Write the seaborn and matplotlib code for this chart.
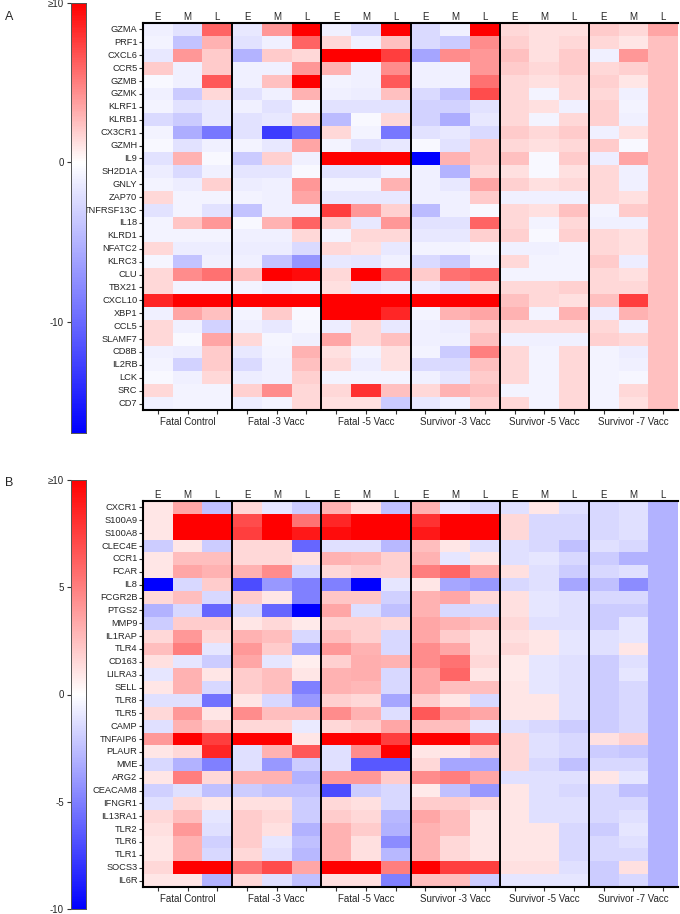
import numpy as np
import pandas as pd
import matplotlib
matplotlib.use("Agg")
import matplotlib.pyplot as plt
import seaborn as sns
from matplotlib.colors import LinearSegmentedColormap

sns.set_theme(style="white")
plt.rcParams['font.family'] = ['Liberation Sans', 'DejaVu Sans']

groups = ["Fatal Control", "Fatal -3 Vacc", "Fatal -5 Vacc",
          "Survivor -3 Vacc", "Survivor -5 Vacc", "Survivor -7 Vacc"]
stages = ["E", "M", "L"]

# ---------------- Panel A ----------------
genes_a = ["GZMA", "PRF1", "CXCL6", "CCR5", "GZMB", "GZMK", "KLRF1", "KLRB1", "CX3CR1",
           "GZMH", "IL9", "SH2D1A", "GNLY", "ZAP70", "TNFRSF13C", "IL18", "KLRD1",
           "NFATC2", "KLRC3", "CLU", "TBX21", "CXCL10", "XBP1", "CCL5", "SLAMF7",
           "CD8B", "IL2RB", "LCK", "SRC", "CD7"]

a_fatal_control = [(-1, -2, 6), (-0.8, -4, 3), (-1.5, 4, 2), (2, -1, 2), (-0.5, -1, 6.5),
                   (-1, -3.5, 1.5), (-0.8, -2, -1.5), (-2.5, -3.5, -1.5), (-0.8, -5.5, -9),
                   (-0.5, -2, -1), (-2, 3, -0.5), (-1.2, -2.5, -1), (-0.8, -1.2, 1.8),
                   (1.5, -0.8, -0.8), (-2, -0.8, -2), (-0.8, 2.2, 4), (-0.8, -0.8, -0.8),
                   (1.5, -1.2, -1.2), (-0.7, -4, -1), (1.5, 4.5, 5.5), (1.5, -0.8, -0.8),
                   (8.5, 10, 10), (-1, 3.5, 2.5), (1.5, -1, -3), (1.5, -0.5, 3.5),
                   (-1, -1.2, 2), (-0.8, -3, 2), (-0.5, -1, 1.5), (1.5, -0.8, -0.8),
                   (-1, -0.8, -0.8)]
a_fatal_3 = [(-1.5, 4, 10), (-2, -1, 6), (-5, 2, 1.5), (-1, -1, 4), (-1, 2.5, 10),
             (-2, -1, 3), (-1, -2, -0.7), (-2, -1.5, 2), (-2, -13, -10), (-0.8, -1.5, 3.5),
             (-3.5, 1.8, -1), (-1.8, -1.8, -0.5), (-1.2, -1, 4), (-0.8, -1, 3.5),
             (-4, -1, -1), (-0.5, 3, 6), (-1, -1, 1.5), (-1.2, -1.2, -2.5), (-1, -4, -7),
             (2.5, 10, 9.5), (-0.8, -1.2, -1), (10, 10, 10), (-0.8, 2, -0.5),
             (-1, -1.5, -0.6), (1.5, -0.7, -1), (-1.5, -0.8, 3), (-2.5, -1, 2.5),
             (-1.2, -1, 1.8), (1.8, 4.5, 1.5), (-1.2, -0.8, 1.5)]
a_fatal_5 = [(-1, -2.5, 10), (1.5, -1, 2.5), (10, 10, 7.5), (3, -1, 4.5), (-0.8, -1, 6.5),
             (-1, -1.2, 2.5), (-2, -2, -2), (-4.5, -0.5, 1.5), (1.5, -0.8, -9),
             (-0.8, -2, -1.5), (10, 10, 10), (-2, -2, -1), (-0.8, -0.8, 3),
             (-1.5, -1.5, -1.5), (7.5, 4, 1.8), (2, -1.5, 4), (-0.8, 1.5, 1.5),
             (1.5, 1.2, -1.5), (-1.5, -1.8, -1), (1.5, 10, 6.5), (1.2, -1.5, -1.2),
             (10, 10, 10), (10, 10, 8.5), (-1.2, 1.5, -1.5), (3.5, 1.5, 2.5), (1.2, -0.8, 1.2),
             (1.5, -1.2, 1.2), (-0.8, -0.8, -0.8), (1.5, 8, 2.5), (1.2, 1.2, -3.5)]
a_surv_3 = [(-2.5, -1, 10), (-2.5, -3.5, 4.5), (-6, 4.5, 4), (-1, -1, 4), (-1, -1, 5.5),
            (-2.5, -4, 7), (-3, -3, -2), (-3, -5.5, -1.5), (-2, -1.5, -2.5), (-0.5, -2, 2),
            (-17, 3, 2), (-1, -5, 1.5), (-1, -1.5, 3.5), (-1, -1, 2), (-4.5, -1, -0.5),
            (-2, -2, 6), (-1.5, -1.5, 1.8), (-0.8, -0.8, -0.6), (-2.5, -3.5, -1),
            (2, 5.5, 6), (-1.2, -2, 1.5), (10, 10, 10), (-0.8, 3, 3.5), (-1, -1.2, 1.8),
            (-1, -1, 2.5), (-0.8, -3.5, 5), (-2.5, -2.5, 2.5), (-1, -1.8, 2),
            (1.5, 3, 2.5), (-1.5, -1, 1.8)]
a_surv_5 = [(1.5, 1.2, 1.2), (1.8, 1.2, 1.5), (2.5, 1.2, 2), (2, 1.5, 2), (1.5, 1.2, 1.5),
            (1.5, -0.8, 1.5), (1.5, 1.2, -1), (1.5, -0.8, 1.5), (2, 1.5, 2), (1.5, 1.2, 1.5),
            (2.5, -0.5, 2), (1.2, -0.5, 1.2), (1.8, 1.2, 1.5), (-1, -1, -1), (1.5, 1.2, 2.5),
            (1.5, -0.8, 1.5), (1.8, -0.5, 1.8), (-1, -1, -0.8), (1.5, -0.8, -0.8),
            (-0.8, -0.8, -0.8), (1.5, 1.5, 1.8), (2.5, 1.5, 1.2), (3, -0.8, 3),
            (1.5, 1.5, 1.5), (-1, -1, -1), (1.5, -0.8, 1.5), (1.5, -0.8, 1.5),
            (1.5, -0.8, 1.5), (-0.8, -0.8, 1.5), (1.5, -0.8, 1.5)]
a_surv_7 = [(2, 1.5, 3.5), (1.5, 1, 2.5), (-1, 4, 2.5), (1.5, 1.8, 2.5), (1.8, 1, 2.5),
            (1.5, -1, 2.5), (1.8, -0.8, 2.5), (1.8, -1, 2.5), (-1, 1.2, 2.5), (2, -0.5, 2.5),
            (-1.2, 3.5, 2.5), (1.5, -1, 2.5), (1.5, -1, 2.5), (1.5, 1.2, 2.5),
            (-0.8, 2, 2.5), (-1, -1, 2.5), (1.5, 1.2, 2.5), (1.5, 1.2, 2.5), (2, -1.2, 2.5),
            (1.5, 1.2, 2.5), (1.5, 1.5, 2.5), (2.5, 7.5, 2.5), (-1.2, 3, 2.5),
            (1.5, -1, 2.5), (1.8, 1.5, 2.5), (-0.8, -1.2, 2.5), (-0.8, -1, 2.5),
            (-0.8, -0.6, 2.5), (-0.8, 1.5, 2.5), (-0.8, 1.2, 2.5)]

# ---------------- Panel B ----------------
genes_b = ["CXCR1", "S100A9", "S100A8", "CLEC4E", "CCR1", "FCAR", "IL8", "FCGR2B", "PTGS2",
           "MMP9", "IL1RAP", "TLR4", "CD163", "LILRA3", "SELL", "TLR8", "TLR5", "CAMP",
           "TNFAIP6", "PLAUR", "MME", "ARG2", "CEACAM8", "IFNGR1", "IL13RA1", "TLR2",
           "TLR6", "TLR1", "SOCS3", "IL6R"]

b_fatal_control = [(1, 3.5, -2.5), (1, 10, 10), (1, 10, 10), (-2, 1, -2), (1, 2.5, 2.5),
                   (1, 3.5, 3), (-10, -1.5, 2), (1.5, 2.5, -1.5), (-3, -1.5, -6), (-2, 2, 2),
                   (1.5, 4, 1.5), (2.5, 5, -1), (1.2, -1, -2), (-1, 3, 1), (1, 3, -1.5),
                   (-1.2, -1.2, -5.5), (1.5, 4, 1), (-1.2, 3, 2), (4, 10, 7.5),
                   (1, 1.5, 8.5), (-1.5, -3, -5), (1, 5, 1.5), (-1.8, -1.2, -2.5),
                   (-1.2, 1.5, 1), (1.5, 2.5, -1), (1.2, 4, -1.2), (1, 3, -1.8),
                   (1, 3, -1.5), (1.5, 10, 10), (1, 1, -3)]
b_fatal_3 = [(1.5, -1, -2), (7, 10, 5.5), (7.5, 10, 9), (1.5, 1.5, -6), (1.5, 1.5, 1.2),
             (3, 4.5, -1.5), (-7, -4, -5), (2, 1, -5), (-1.5, -6, -10), (1, 1.5, 0.8),
             (3, 2.5, -1.5), (4, 2, -3.5), (3.5, -1, 0.7), (2, 2.5, 1), (2, 2.5, -5),
             (1, -1.5, -4), (4.5, 2.5, 2.5), (1.5, 1.5, -0.8), (10, 10, 1), (-1.2, 3, 6.5),
             (-1.2, -4, -2), (3, 3, -3), (-2, -2.5, -2.5), (1.2, 1.2, -2), (2, 1.5, -2),
             (2, 1.2, -3), (2, -1, -2.5), (1.5, -1.2, -2.8), (5.5, 7, 3.5), (1.5, -1.2, -2.5)]
b_fatal_5 = [(3, 1.2, -2.5), (8.5, 10, 10), (9.5, 10, 10), (-1.2, -1.2, -2.8), (3, 2.8, 1.8),
             (1.5, 2, 1.8), (-5, -10, -1), (2.2, 2.2, -1.8), (3.5, -1.3, -2.5), (1.8, 1.8, 1.5),
             (2.5, 1.8, -1.5), (4, 3, -1.5), (1.8, 3.2, 3), (3, 3.2, -1.5), (3, 2.8, -1.5),
             (1.8, 1.5, -3.5), (4.5, 3, -1.3), (1.5, 2, 3.5), (10, 10, 7.5), (-1.2, 4.5, 10),
             (-1.2, -6.5, -6.5), (4, 4, 2), (-7, -2, -1.5), (1.5, 1.2, -1.5),
             (2, 1.5, -2.8), (3, 2, -3), (3, 1.2, -4.5), (3, 1.2, -2.8), (10, 10, 5),
             (1.2, 1.2, -5)]
b_surv_3 = [(3, -1, -1.5), (8, 10, 10), (9, 10, 10), (2.5, 1, -1.2), (3, -1, 1),
            (5, 6, 3.5), (1, -3.5, -4), (3, 3.5, 1.5), (3, -1.5, -1.5), (3.5, 3, 2.5),
            (3.5, 2, 1.2), (4.5, 3.5, 1.2), (4.5, 5.5, 1.5), (3.5, 6, 1), (3.5, 2.5, 2.5),
            (2, 1, -1.5), (6.5, 4, 3.5), (2.5, 2.5, -1), (10, 10, 6.5), (1, 1, 2),
            (1.5, -3.5, -3.5), (4.5, 5, 3.5), (0.8, -2.5, -4), (2, 2, 1.5), (3.5, 2.5, 1),
            (3, 2.5, 1), (3, 1.5, 1), (3, 1.5, 1), (10, 7.5, 7.5), (2.5, 2.5, -2)]
b_surv_5 = [(-1.2, 1, -1.2), (1.5, -1.5, -1.5), (1.5, -1.5, -1.5), (-1.2, -1.5, -2.5),
            (-1.2, -1, -1.5), (1.2, -1.2, -2), (-1.5, -1.2, -3.5), (1.2, -1, -1.2),
            (1.2, -1, -1.2), (1.5, -1.2, -1.2), (1.2, 1, -1), (1.5, 1, -1), (0.8, -1, -1.2),
            (0.8, -1, -1.2), (1, -1, -1.2), (1, 1, -1.2), (1, 1, -1.2), (-1.2, -1.5, -2),
            (1.5, -1.2, -1.5), (1.5, -1.2, -1.5), (1.5, -1.5, -2.5), (-1.2, -1.2, -1.2),
            (1, -1.2, -1.5), (1, -1.2, -1.2), (1, -1.2, -1.2), (1, 1, -1.5), (1, 1, -1.5),
            (1, 1, -1.5), (1.2, 1.2, -1.2), (-1, -1, -1)]
b_surv_7 = [(-1.5, -1.2, -3), (-1.5, -1.2, -3), (-1.5, -1.2, -3), (-1.2, -1.5, -3),
            (-2, -3, -3), (-1.5, -1.2, -3), (-2.5, -4.5, -3), (-1.5, -1.5, -3),
            (-2, -2, -3), (-2, -1, -3), (-1.2, -1, -3), (-1.2, 1, -3), (-2, -1.2, -3),
            (-2, -1, -3), (-2, -1.5, -3), (-2, -1.5, -3), (-2, -1.5, -3), (-2, -1.5, -3),
            (1.2, 1.8, -3), (-2, -2.2, -3), (-1.5, -1.5, -3), (1, -1, -3),
            (-1.5, -2.5, -3), (-1.5, -1.5, -3), (-1.5, -1.2, -3), (-2, -1, -3),
            (-1.5, -1.2, -3), (-1.5, -1.5, -3), (-2, 1.2, -3), (-2, -1.5, -3)]


def build(genes, arrays):
    arr = np.hstack([np.array(a, dtype=float) for a in arrays])
    cols = [f"{g} {s}" for g in groups for s in stages]
    return pd.DataFrame(arr, index=genes, columns=cols)


df_a = build(genes_a, [a_fatal_control, a_fatal_3, a_fatal_5, a_surv_3, a_surv_5, a_surv_7])
df_b = build(genes_b, [b_fatal_control, b_fatal_3, b_fatal_5, b_surv_3, b_surv_5, b_surv_7])

W, H = 680, 914
fig = plt.figure(figsize=(W / 100, H / 100), dpi=100)


def fax(x0, y0, x1, y1):
    return fig.add_axes([x0 / W, 1 - y1 / H, (x1 - x0) / W, (y1 - y0) / H])


def panel(df, vmin, vmax, hm_box, cb_box, cticks, clabels, letter, letter_y):
    ax = fax(*hm_box)
    cax = fax(*cb_box)
    frac = -vmin / (vmax - vmin)
    cmap = LinearSegmentedColormap.from_list(
        "bwr_" + letter, [(0, "#0000ff"), (frac, "#ffffff"), (1, "#ff0000")])
    sns.heatmap(df, ax=ax, cmap=cmap, vmin=vmin, vmax=vmax, cbar_ax=cax, linewidths=0)
    n_rows, n_cols = df.shape
    ax.set_yticks(np.arange(n_rows) + 0.5)
    ax.set_yticklabels(df.index, rotation=0, fontsize=6.7)
    ax.tick_params(axis="y", left=True, length=3, width=0.8, pad=1, color="#333333")
    xpos = np.arange(n_cols) + 0.5
    ax.set_xticks(xpos)
    blabels = []
    for g in groups:
        blabels += ["", g, ""]
    ax.set_xticklabels(blabels, rotation=0, fontsize=7)
    ax.tick_params(axis="x", bottom=True, length=3, width=0.8, pad=2, color="#333333")
    ax.set_xlabel("")
    ax.set_ylabel("")
    sec = ax.secondary_xaxis("top")
    sec.set_xticks(xpos)
    sec.set_xticklabels(stages * len(groups), fontsize=7)
    sec.tick_params(length=0, pad=1)
    for s in sec.spines.values():
        s.set_visible(False)
    for k in ["left", "top", "bottom"]:
        ax.spines[k].set_visible(True)
        ax.spines[k].set_color("black")
        ax.spines[k].set_linewidth(1.5)
    ax.spines["right"].set_visible(False)
    for xb in range(3, n_cols, 3):
        ax.axvline(xb, color="black", lw=1.4)
    cax.yaxis.set_ticks_position("left")
    cax.set_yticks(cticks)
    cax.set_yticklabels(clabels, fontsize=7)
    cax.tick_params(axis="y", left=True, right=False, length=3, width=0.8,
                    direction="out", pad=2, color="#333333")
    for s in cax.spines.values():
        s.set_visible(True)
        s.set_linewidth(0.6)
        s.set_color("#555555")
    fig.text(5 / W, 1 - letter_y / H, letter, fontsize=9, va="center", ha="left")


panel(df_a, -17, 10, (143, 23, 678, 410), (71, 3, 86, 433),
      [10, 0, -10], ["≥10", "0", "-10"], "A", 17)
panel(df_b, -10, 10, (143, 501, 678, 887), (71, 480, 86, 909),
      [10, 5, 0, -5, -10], ["≥10", "5", "0", "-5", "-10"], "B", 483)

fig.savefig("out.png", dpi=100)
